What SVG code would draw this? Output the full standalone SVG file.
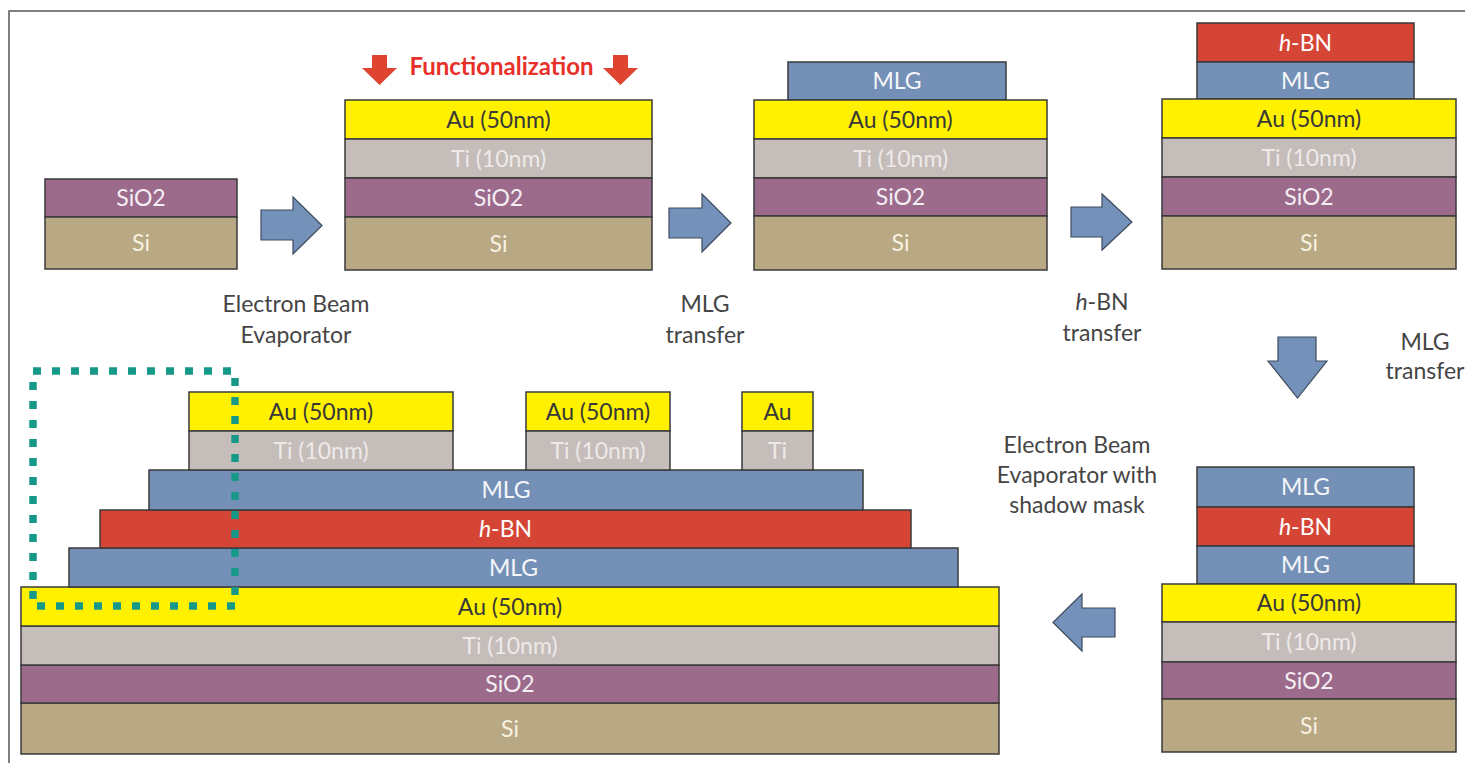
<svg xmlns="http://www.w3.org/2000/svg" width="1465" height="763" viewBox="0 0 1465 763">
  <style>
    .ly{stroke:#3a3a3a;stroke-width:1.5}
    .au{fill:#FFF100}
    .ti{fill:#C4BDBA}
    .sio2{fill:#9C6B8C}
    .si{fill:#B8A883}
    .mlg{fill:#7490B6}
    .hbn{fill:#D54535}
    text{font-family:Lato,"Liberation Sans",sans-serif;font-size:23px;text-anchor:middle}
    .t-au{fill:#383838}
    .t-ti{fill:#EEEAE8}
    .t-sio2{fill:#F4EEF3}
    .t-si{fill:#F7F2E2}
    .t-mlg{fill:#F4F6FA}
    .t-hbn{fill:#FFFFFF}
    .lbl{fill:#454545}
    .step{fill:#7391B9;stroke:#3e4b5e;stroke-width:1.2}
    .func{fill:#DE4430}
    .ftxt{fill:#E8302A;font-weight:bold;font-size:24px}
    .it{font-style:italic}
  </style>

  <!-- outer frame (left and top edges) -->
  <path d="M9,775 L9,11 L1475,11" fill="none" stroke="#555" stroke-width="1.5"/>

  <!-- substrate -->
  <g id="stack-substrate">
    <rect class="ly sio2" x="45" y="179" width="192" height="38"/>
    <rect class="ly si" x="45" y="217" width="192" height="52"/>
    <text class="t-sio2" x="141" y="206">SiO2</text>
    <text class="t-si" x="141" y="251">Si</text>
  </g>

  <!-- Ti/Au electrode deposited -->
  <g id="stack-electrode">
    <rect class="ly au" x="345" y="100" width="307" height="39"/>
    <rect class="ly ti" x="345" y="139" width="307" height="39"/>
    <rect class="ly sio2" x="345" y="178" width="307" height="39"/>
    <rect class="ly si" x="345" y="217" width="307" height="53"/>
    <text class="t-au" x="498.5" y="127.5">Au (50nm)</text>
    <text class="t-ti" x="498.5" y="166.5">Ti (10nm)</text>
    <text class="t-sio2" x="498.5" y="205.5">SiO2</text>
    <text class="t-si" x="498.5" y="251.5">Si</text>
  </g>

  <!-- functionalization marker -->
  <g id="functionalization">
    <polygon class="func" points="372,55 387,55 387,68 397,68 379.5,85 362,68 372,68"/>
    <polygon class="func" points="613,55 628,55 628,68 638,68 620.5,85 603,68 613,68"/>
    <text class="ftxt" x="501.5" y="75">Functionalization</text>
  </g>

  <!-- first MLG transferred -->
  <g id="stack-mlg">
    <rect class="ly mlg" x="788" y="62" width="218" height="38"/>
    <rect class="ly au" x="754" y="100" width="293" height="39"/>
    <rect class="ly ti" x="754" y="139" width="293" height="39"/>
    <rect class="ly sio2" x="754" y="178" width="293" height="38"/>
    <rect class="ly si" x="754" y="216" width="293" height="54"/>
    <text class="t-mlg" x="897" y="89">MLG</text>
    <text class="t-au" x="900.5" y="127.5">Au (50nm)</text>
    <text class="t-ti" x="900.5" y="166.5">Ti (10nm)</text>
    <text class="t-sio2" x="900.5" y="205">SiO2</text>
    <text class="t-si" x="900.5" y="251">Si</text>
  </g>

  <!-- h-BN transferred -->
  <g id="stack-hbn">
    <rect class="ly hbn" x="1197" y="23" width="217" height="39"/>
    <rect class="ly mlg" x="1197" y="62" width="217" height="37"/>
    <rect class="ly au" x="1162" y="99" width="294" height="39"/>
    <rect class="ly ti" x="1162" y="138" width="294" height="39"/>
    <rect class="ly sio2" x="1162" y="177" width="294" height="39"/>
    <rect class="ly si" x="1162" y="216" width="294" height="53"/>
    <text class="t-hbn" x="1305.5" y="50.5"><tspan class="it">h</tspan>-BN</text>
    <text class="t-mlg" x="1305.5" y="88.5">MLG</text>
    <text class="t-au" x="1309" y="126.5">Au (50nm)</text>
    <text class="t-ti" x="1309" y="165.5">Ti (10nm)</text>
    <text class="t-sio2" x="1309" y="204.5">SiO2</text>
    <text class="t-si" x="1309" y="250.5">Si</text>
  </g>

  <!-- second MLG transferred -->
  <g id="stack-mlg2">
    <rect class="ly mlg" x="1197" y="467" width="217" height="40"/>
    <rect class="ly hbn" x="1197" y="507" width="217" height="39"/>
    <rect class="ly mlg" x="1197" y="546" width="217" height="38"/>
    <rect class="ly au" x="1162" y="584" width="294" height="38"/>
    <rect class="ly ti" x="1162" y="622" width="294" height="40"/>
    <rect class="ly sio2" x="1162" y="662" width="294" height="37"/>
    <rect class="ly si" x="1162" y="699" width="294" height="53"/>
    <text class="t-mlg" x="1305.5" y="495">MLG</text>
    <text class="t-hbn" x="1305.5" y="534.5"><tspan class="it">h</tspan>-BN</text>
    <text class="t-mlg" x="1305.5" y="573">MLG</text>
    <text class="t-au" x="1309" y="611">Au (50nm)</text>
    <text class="t-ti" x="1309" y="650">Ti (10nm)</text>
    <text class="t-sio2" x="1309" y="688.5">SiO2</text>
    <text class="t-si" x="1309" y="733.5">Si</text>
  </g>

  <!-- finished device with top contacts -->
  <g id="stack-device">
    <rect class="ly si" x="21" y="703" width="978" height="51"/>
    <rect class="ly sio2" x="21" y="665" width="978" height="38"/>
    <rect class="ly ti" x="21" y="626" width="978" height="39"/>
    <rect class="ly au" x="21" y="587" width="978" height="39"/>
    <rect class="ly mlg" x="69" y="548" width="889" height="39"/>
    <rect class="ly hbn" x="100" y="510" width="811" height="38"/>
    <rect class="ly mlg" x="149" y="470" width="714" height="40"/>
    <rect class="ly au" x="189" y="392" width="264" height="39"/>
    <rect class="ly ti" x="189" y="431" width="264" height="39"/>
    <rect class="ly au" x="526" y="392" width="144" height="39"/>
    <rect class="ly ti" x="526" y="431" width="144" height="39"/>
    <rect class="ly au" x="742" y="392" width="71" height="39"/>
    <rect class="ly ti" x="742" y="431" width="71" height="39"/>
    <text class="t-au" x="321" y="419.5">Au (50nm)</text>
    <text class="t-ti" x="321" y="458.5">Ti (10nm)</text>
    <text class="t-au" x="598" y="419.5">Au (50nm)</text>
    <text class="t-ti" x="598" y="458.5">Ti (10nm)</text>
    <text class="t-au" x="777.5" y="419.5">Au</text>
    <text class="t-ti" x="777.5" y="458.5">Ti</text>
    <text class="t-mlg" x="506" y="498">MLG</text>
    <text class="t-hbn" x="505.5" y="537"><tspan class="it">h</tspan>-BN</text>
    <text class="t-mlg" x="513.5" y="575.5">MLG</text>
    <text class="t-au" x="510" y="614.5">Au (50nm)</text>
    <text class="t-ti" x="510" y="653.5">Ti (10nm)</text>
    <text class="t-sio2" x="510" y="692">SiO2</text>
    <text class="t-si" x="510" y="736.5">Si</text>
  </g>

  <!-- highlighted edge region -->
  <rect id="edge-box" x="33" y="371" width="202" height="235" fill="none" stroke="#17998A" stroke-width="7.5" stroke-dasharray="8 11"/>

  <!-- process-step arrows -->
  <g id="connectors">
    <polygon class="step" points="261,210 293,210 293,197 322,225.5 293,254 293,240 261,240"/>
    <polygon class="step" points="669,208 702,208 702,194 731,223 702,252 702,238 669,238"/>
    <polygon class="step" points="1071,207 1102,207 1102,194 1132,222 1102,250 1102,237 1071,237"/>
    <polygon class="step" points="1278,337 1316,337 1316,361 1327,361 1297.5,398 1268,361 1278,361"/>
    <polygon class="step" points="1115,608 1082,608 1082,594 1053,622.5 1082,651 1082,637 1115,637"/>
  </g>

  <!-- step labels -->
  <g id="labels">
    <text class="lbl" x="296" y="312">Electron Beam</text>
    <text class="lbl" x="296" y="343">Evaporator</text>
    <text class="lbl" x="705" y="312">MLG</text>
    <text class="lbl" x="705" y="343">transfer</text>
    <text class="lbl" x="1102" y="310"><tspan class="it">h</tspan>-BN</text>
    <text class="lbl" x="1102" y="341">transfer</text>
    <text class="lbl" x="1425" y="350">MLG</text>
    <text class="lbl" x="1425" y="379">transfer</text>
    <text class="lbl" x="1077" y="453">Electron Beam</text>
    <text class="lbl" x="1077" y="483">Evaporator with</text>
    <text class="lbl" x="1077" y="513">shadow mask</text>
  </g>
</svg>
